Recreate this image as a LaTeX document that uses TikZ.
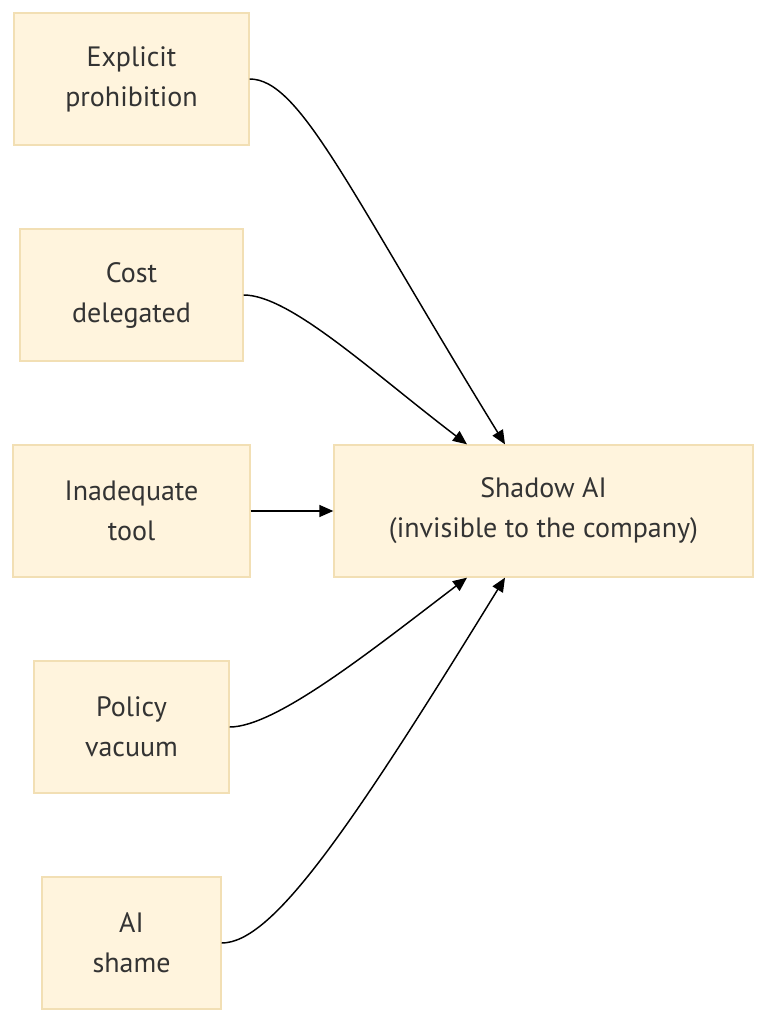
\documentclass[tikz,border=0pt]{standalone}
\usepackage{fontspec}
\setmainfont{PT Sans}
\usetikzlibrary{arrows.meta}
\definecolor{boxfill}{HTML}{FFF4DD}
\definecolor{boxline}{HTML}{F2DFB4}
\definecolor{txt}{HTML}{333333}
\begin{document}
\begin{tikzpicture}[x=0.75pt,y=-0.75pt,
  box/.style={draw=boxline,line width=1pt,fill=boxfill,minimum height=99pt,align=center,
    text=txt,font=\fontsize{21pt}{30pt}\selectfont,inner sep=0pt},
  conn/.style={line width=1.1pt,-{Triangle[length=10.5pt,width=9pt]}}]
\useasboundingbox (0,0) rectangle (767,1024);
\node[box,minimum width=176.25pt] (a) at (131.5,79) {Explicit\\prohibition};
\node[box,minimum width=167.25pt] (b) at (131.5,295) {Cost\\delegated};
\node[box,minimum width=177.75pt] (c) at (131.5,511) {Inadequate\\tool};
\node[box,minimum width=146.25pt] (d) at (131.5,727) {Policy\\vacuum};
\node[box,minimum width=134.25pt] (e) at (131.5,943) {AI\\shame};
\node[box,minimum width=314.25pt] (s) at (543.5,511) {Shadow AI\\(invisible to the company)};
\coordinate (tn1) at ([xshift=-28.875pt]s.north);
\coordinate (tn2) at ([xshift=-57.375pt]s.north);
\coordinate (ts1) at ([xshift=-28.875pt]s.south);
\coordinate (ts2) at ([xshift=-57.375pt]s.south);
\draw[conn] (a.east) .. controls (300,79) and (348,189) .. (tn1);
\draw[conn] (b.east) .. controls (290,295) and (372,372) .. (tn2);
\draw[conn] (c.east) -- (s.west);
\draw[conn] (d.east) .. controls (276,727) and (372,650) .. (ts2);
\draw[conn] (e.east) .. controls (272,943) and (348,833) .. (ts1);
\end{tikzpicture}
\end{document}
